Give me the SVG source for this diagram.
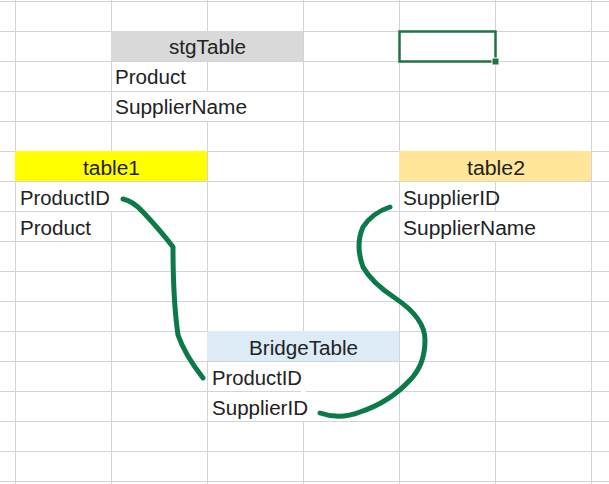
<svg xmlns="http://www.w3.org/2000/svg" width="609" height="484" viewBox="0 0 609 484">
<style>
.g{stroke:#d4d4d4;stroke-width:1}
.t{font-family:"Liberation Sans",Arial,sans-serif;font-size:20px;fill:#222}
.h{text-anchor:middle}
.c{fill:none;stroke:#0b7a48;stroke-width:5;stroke-linecap:round;stroke-linejoin:round}
</style>
<rect width="609" height="484" fill="#fff"/>
<g id="grid">
<path class="g" d="M15.5,0V484M111.5,0V484M207.5,0V484M303.5,0V484M399.5,0V484M495.5,0V484M591.5,0V484"/>
<path class="g" d="M0,1.5H609M0,31.5H609M0,61.5H609M0,91.5H609M0,121.5H609M0,151.5H609M0,181.5H609M0,211.5H609M0,241.5H609M0,271.5H609M0,301.5H609M0,331.5H609M0,361.5H609M0,391.5H609M0,421.5H609M0,451.5H609M0,481.5H609"/>
<rect x="205" y="92" width="5" height="29" fill="#fff"/>
<rect x="109" y="182" width="5" height="29" fill="#fff"/>
<rect x="493" y="212" width="5" height="29" fill="#fff"/>
<rect x="301" y="362" width="5" height="59" fill="#fff"/>
</g>
<g id="selection">
<rect x="399.5" y="31.5" width="96" height="30" fill="none" stroke="#217346" stroke-width="2.5"/>
<rect x="492" y="58" width="7" height="7" fill="#217346" stroke="#fff" stroke-width="1"/>
</g>
<g id="stgTable">
<rect x="111" y="31" width="192" height="30" fill="#d9d9d9"/>
<text class="t h" x="207.5" y="54" textLength="77" lengthAdjust="spacingAndGlyphs">stgTable</text>
<text class="t" x="115" y="84" textLength="71" lengthAdjust="spacingAndGlyphs">Product</text>
<text class="t" x="115" y="114" textLength="132" lengthAdjust="spacingAndGlyphs">SupplierName</text>
</g>
<g id="table1">
<rect x="15" y="151" width="192" height="30" fill="#ffff00"/>
<text class="t h" x="111.5" y="175" textLength="57" lengthAdjust="spacingAndGlyphs">table1</text>
<text class="t" x="20" y="205" textLength="90" lengthAdjust="spacingAndGlyphs">ProductID</text>
<text class="t" x="20" y="235" textLength="71" lengthAdjust="spacingAndGlyphs">Product</text>
</g>
<g id="table2">
<rect x="399" y="151" width="192" height="30" fill="#ffe699"/>
<text class="t h" x="496" y="175" textLength="58" lengthAdjust="spacingAndGlyphs">table2</text>
<text class="t" x="403" y="205" textLength="97" lengthAdjust="spacingAndGlyphs">SupplierID</text>
<text class="t" x="403" y="235" textLength="133" lengthAdjust="spacingAndGlyphs">SupplierName</text>
</g>
<g id="BridgeTable">
<rect x="207" y="331" width="192" height="30" fill="#ddebf7"/>
<text class="t h" x="303.5" y="355" textLength="109" lengthAdjust="spacingAndGlyphs">BridgeTable</text>
<text class="t" x="212" y="385" textLength="90" lengthAdjust="spacingAndGlyphs">ProductID</text>
<text class="t" x="212" y="415" textLength="96" lengthAdjust="spacingAndGlyphs">SupplierID</text>
</g>
<g id="connectors">
<path class="c" d="M123,199 Q133,201 143,212 Q160,230 173,247 Q173,300 178,335 Q185,355 203,378"/>
<path class="c" d="M390,207 Q372,213 363,227 Q355,245 363,267 Q372,283 395,298 Q425,318 425,340 Q425,365 410,380 Q390,402 360,412 Q340,420 320,413"/>
</g>
</svg>
